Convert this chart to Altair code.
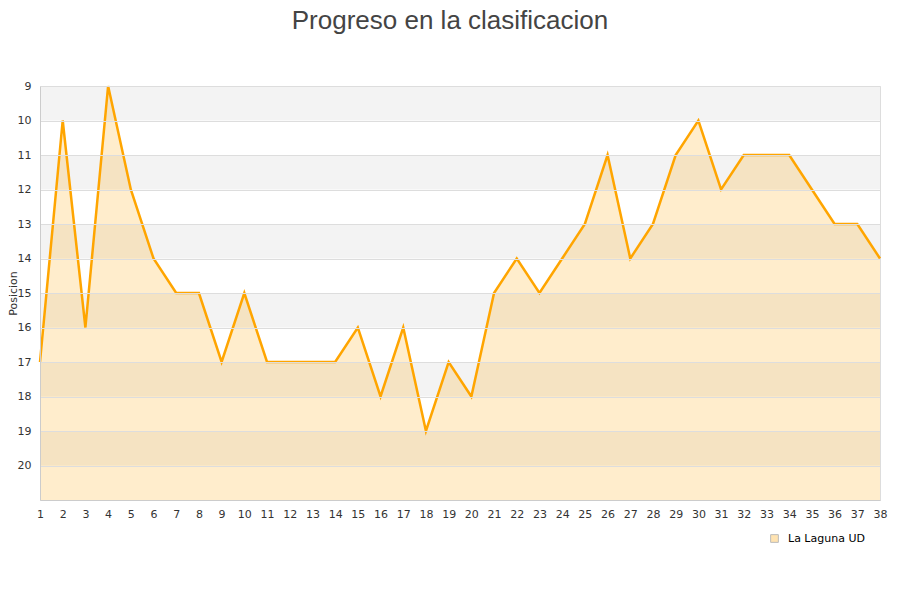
import altair as alt
import pandas as pd

jornadas = list(range(1, 39))
posiciones = [17, 10, 16, 9, 12, 14, 15, 15, 17, 15, 17, 17, 17, 17, 16, 18, 16, 19, 17, 18,
              15, 14, 15, 14, 13, 11, 14, 13, 11, 10, 12, 11, 11, 11, 12, 13, 13, 14]
equipo = "La Laguna UD"
band_start = [9, 11, 13, 15, 17, 19]
band_end = [10, 12, 14, 16, 18, 20]
y_ticks = list(range(9, 21))

df = pd.DataFrame({"Jornada": jornadas, "Posicion": posiciones, "Equipo": [equipo] * len(jornadas)})
bands = pd.DataFrame({"y0": band_start, "y1": band_end})

xscale = alt.Scale(domain=[1, 38], nice=False, zero=False)
yscale = alt.Scale(domain=[9, 21], reverse=True, nice=False, zero=False)

FONT = "DejaVu Sans"

yaxis = alt.Axis(values=y_ticks, grid=True, gridColor="#dddddd", ticks=False,
                 domain=True, domainColor="#cccccc", labelFontSize=11,
                 labelColor="#333333", labelFont=FONT, labelPadding=9,
                 labelOverlap=False, labelFlush=False, zindex=1,
                 titleFont=FONT, titleFontSize=11, titleFontWeight="normal",
                 titleColor="#333333", titleX=-27, titleY=207,
                 titleAlign="center", titleBaseline="middle", titleAngle=-90)
xaxis = alt.Axis(values=jornadas, grid=False, ticks=False, domainColor="#cccccc",
                 labelFontSize=11, labelColor="#333333", labelFont=FONT,
                 labelOverlap=False, labelFlush=False, labelPadding=8,
                 format="d", zindex=1)

band_layer = alt.Chart(bands).mark_rect(color="#f3f3f3").encode(
    y=alt.Y("y0:Q", scale=yscale, title="Posicion", axis=yaxis),
    y2="y1:Q",
    x=alt.value(0),
    x2=alt.value(840),
)

area = alt.Chart(df).mark_area(opacity=0.2, line=False).encode(
    x=alt.X("Jornada:Q", scale=xscale, title=None, axis=xaxis),
    y=alt.Y("Posicion:Q", scale=yscale, title="Posicion", axis=yaxis),
    y2=alt.datum(21),
    color=alt.Color("Equipo:N", scale=alt.Scale(range=["#FFA500"]),
                    legend=alt.Legend(title=None, orient="none", legendX=729, legendY=447,
                                      symbolType="square", symbolSize=60,
                                      symbolStrokeColor="#222222", symbolStrokeWidth=1,
                                      symbolOpacity=0.3, labelOffset=8,
                                      labelFont=FONT, labelFontSize=11, labelColor="#000000")),
)

line = alt.Chart(df).mark_line(color="#FFA500", strokeWidth=2.5).encode(
    x=alt.X("Jornada:Q", scale=xscale, title=None, axis=xaxis),
    y=alt.Y("Posicion:Q", scale=yscale, title="Posicion", axis=yaxis),
)

chart = alt.layer(band_layer, area, line).properties(
    width=840,
    height=414,
    title=alt.TitleParams("Progreso en la clasificacion", font="Liberation Sans", fontSize=26,
                          fontWeight="normal", color="#444444", anchor="middle", dx=-10,
                          offset=46),
    autosize=alt.AutoSizeParams(type="none"),
    padding={"left": 32, "top": 78, "right": 12, "bottom": 60},
).configure_view(stroke=None).configure(background="white")

chart.save("out.html", embed_options={"renderer": "svg", "actions": False})
